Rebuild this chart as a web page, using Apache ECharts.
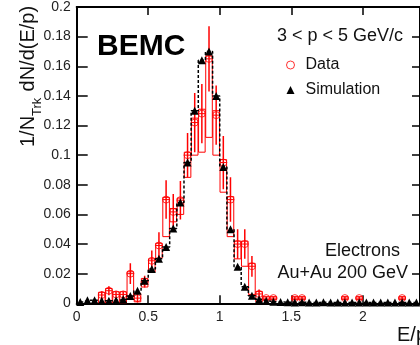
<!DOCTYPE html>
<html>
<head>
<meta charset="utf-8">
<script src="https://cdn.jsdelivr.net/npm/echarts@6/dist/echarts.min.js"></script>
<style>
  html, body { margin: 0; padding: 0; background: #fff; }
  #container { width: 420px; height: 345px; }
</style>
</head>
<body>
<div id="container"></div>
<script>
// bin centres in E/p (bin width 0.05)
var binCenters = [0.025, 0.075, 0.125, 0.175, 0.225, 0.275, 0.325, 0.375, 0.425, 0.475,
    0.525, 0.575, 0.625, 0.675, 0.725, 0.775, 0.825, 0.875, 0.925, 0.975,
    1.025, 1.075, 1.125, 1.175, 1.225, 1.275, 1.325, 1.375, 1.425, 1.475,
    1.525, 1.575, 1.625, 1.675, 1.725, 1.775, 1.825, 1.875, 1.925, 1.975,
    2.025, 2.075, 2.125, 2.175, 2.225, 2.275, 2.325, 2.375];

// data (null = empty bin)
var dataValues = [null, null, null, 0.0056, 0.0085, 0.006, 0.006, 0.020, 0.0035, 0.0146,
    0.0287, 0.039, 0.070, 0.0617, 0.0696, 0.100, 0.122, 0.128, 0.165, 0.127,
    0.095, 0.070, 0.040, 0.040, 0.025, 0.0063, 0.0035, 0.0035, null, null,
    0.0035, 0.0035, null, null, null, null, null, 0.0035, null, 0.0035,
    null, null, null, null, null, 0.0035, null, null];

// statistical errors
var dataErrors = [0, 0, 0, 0.0025, 0.003, 0.002, 0.002, 0.007, 0.003, 0.004,
    0.007, 0.009, 0.013, 0.012, 0.013, 0.015, 0.020, 0.020, 0.022, 0.020,
    0.018, 0.015, 0.010, 0.010, 0.007, 0.003, 0.001, 0.001, 0, 0,
    0.001, 0.001, 0, 0, 0, 0, 0, 0.001, 0, 0.001,
    0, 0, 0, 0, 0, 0.001, 0, 0];

// systematic boxes: lower and upper edge
var sysLow = [0, 0, 0, 0, 0, 0, 0, 0.0045, 0.001, 0.011,
    0.021, 0.0305, 0.045, 0.055, 0.060, 0.085, 0.100, 0.102, 0.112, 0.100,
    0.075, 0.045, 0.030, 0.025, 0.006, 0.001, 0.0025, 0.0025, 0, 0,
    0.0025, 0.0025, 0, 0, 0, 0, 0, 0.0025, 0, 0.0025,
    0, 0, 0, 0, 0, 0.0025, 0, 0];
var sysHigh = [0, 0, 0, 0.0074, 0.010, 0.0078, 0.0078, 0.0213, 0.0067, 0.0168,
    0.030, 0.0405, 0.0715, 0.064, 0.071, 0.102, 0.125, 0.131, 0.167, 0.130,
    0.097, 0.072, 0.042, 0.042, 0.027, 0.008, 0.0045, 0.0045, 0, 0,
    0.0045, 0.0045, 0, 0, 0, 0, 0, 0.0045, 0, 0.0045,
    0, 0, 0, 0, 0, 0.0045, 0, 0];

// simulation
var simValues = [0.0008, 0.002, 0.002, 0.0018, 0.0018, 0.002, 0.0027, 0.005, 0.0085, 0.0152,
    0.0232, 0.030, 0.038, 0.0505, 0.068, 0.095, 0.130, 0.164, 0.170, 0.140,
    0.092, 0.050, 0.0247, 0.0112, 0.0051, 0.0027, 0.0015, 0.001, 0.0008, 0.0007,
    0.0006, 0.0007, 0.0006, 0.0006, 0.0007, 0.0006, 0.0005, 0.0006, 0.0006, 0.0005,
    0.0006, 0.0005, 0.0005, 0.0006, 0.0005, 0.0005, 0.0005, 0.0005];

var FONT = 'Liberation Sans, Arial, sans-serif';
var RED = '#ff0000';
var HALF_BIN = 0.023;

var dataPts = [], simPts = [];
for (var i = 0; i < binCenters.length; i++) {
    if (dataValues[i] !== null) {
        dataPts.push([binCenters[i], dataValues[i], dataErrors[i], sysLow[i], sysHigh[i]]);
    }
    simPts.push([binCenters[i], simValues[i]]);
}

var myChart = echarts.init(document.getElementById('container'));

var axisCommon = {
    axisLine: { show: true, onZero: false, lineStyle: { color: '#000', width: 2 } },
    splitLine: { show: false }
};

var option = {
    animation: false,
    grid: { left: 76.7, top: 6.5, width: 345.6, height: 296.8 },
    xAxis: [
        Object.assign({
            type: 'value', min: 0, max: 2.4, interval: 0.5, position: 'bottom',
            axisTick: { inside: true, length: 8, lineStyle: { color: '#000', width: 1.5 } },
            axisLabel: { fontSize: 14, color: '#222', fontFamily: FONT, margin: 7, showMaxLabel: false }
        }, axisCommon),
        Object.assign({
            type: 'value', min: 0, max: 2.4, interval: 0.5, position: 'top',
            axisTick: { inside: true, length: 8, lineStyle: { color: '#000', width: 1.5 } },
            axisLabel: { show: false }
        }, axisCommon)
    ],
    yAxis: [
        Object.assign({
            type: 'value', min: 0, max: 0.2, interval: 0.02, position: 'left',
            axisTick: { inside: true, length: 11, lineStyle: { color: '#000', width: 1.5 } },
            axisLabel: { fontSize: 14, color: '#222', fontFamily: FONT, margin: 6 }
        }, axisCommon),
        Object.assign({
            type: 'value', min: 0, max: 0.2, interval: 0.02, position: 'right',
            axisTick: { inside: true, length: 8, lineStyle: { color: '#000', width: 1.5 } },
            axisLabel: { show: false }
        }, axisCommon)
    ],
    legend: {
        orient: 'vertical', left: 281, top: 52, itemWidth: 8, itemHeight: 8, itemGap: 9,
        textStyle: { fontSize: 16, color: '#111', fontFamily: FONT, padding: [0, 0, 0, 6] },
        data: [
            { name: 'Data', icon: 'circle', itemStyle: { color: 'rgba(0,0,0,0)', borderColor: RED, borderWidth: 1 } },
            { name: 'Simulation', icon: 'triangle', itemStyle: { color: '#000' } }
        ]
    },
    graphic: [
        { type: 'text', left: 97, top: 32, style: { text: 'BEMC', fontSize: 30, fontWeight: 'bold', fontFamily: FONT, fill: '#000' } },
        { type: 'text', x: 403, y: 36, style: { text: '3 < p < 5 GeV/c', fontSize: 18, fontFamily: FONT, fill: '#111', align: 'right', verticalAlign: 'middle' } },
        { type: 'text', x: 400, y: 251, style: { text: 'Electrons', fontSize: 18, fontFamily: FONT, fill: '#111', align: 'right', verticalAlign: 'middle' } },
        { type: 'text', x: 408, y: 273, style: { text: 'Au+Au 200 GeV', fontSize: 18, fontFamily: FONT, fill: '#111', align: 'right', verticalAlign: 'middle' } },
        { type: 'text', x: 397, y: 335, style: { text: 'E/p', fontSize: 20, fontFamily: FONT, fill: '#111', align: 'left', verticalAlign: 'middle' } },
        {
            type: 'group', x: 28, y: 147, rotation: Math.PI / 2,
            children: [
                { type: 'text', x: 0, y: 0, style: { text: '1/N', fontSize: 20, fontFamily: FONT, fill: '#111', verticalAlign: 'middle' } },
                { type: 'text', x: 31, y: 9, style: { text: 'Trk', fontSize: 13, fontFamily: FONT, fill: '#111', verticalAlign: 'middle' } },
                { type: 'text', x: 50, y: 0, style: { text: ' dN/d(E/p)', fontSize: 20, fontFamily: FONT, fill: '#111', verticalAlign: 'middle' } }
            ]
        }
    ],
    series: [
        {
            // systematic boxes + horizontal bin-width bar
            type: 'custom', name: 'DataSys', clip: true, z: 2,
            data: dataPts,
            renderItem: function (params, api) {
                var x = api.value(0), v = api.value(1);
                var p0 = api.coord([x - HALF_BIN, api.value(4)]);
                var p1 = api.coord([x + HALF_BIN, api.value(3)]);
                var m = api.coord([x, v]);
                return {
                    type: 'group',
                    children: [
                        {
                            type: 'rect',
                            shape: { x: p0[0], y: p0[1], width: p1[0] - p0[0], height: p1[1] - p0[1] },
                            style: { fill: 'none', stroke: RED, lineWidth: 1 }
                        },
                        {
                            type: 'line',
                            shape: { x1: p0[0], y1: m[1], x2: p1[0], y2: m[1] },
                            style: { stroke: RED, lineWidth: 1 }
                        }
                    ]
                };
            }
        },
        {
            // statistical error bars
            type: 'custom', name: 'DataErr', clip: true, z: 3,
            data: dataPts,
            renderItem: function (params, api) {
                var x = api.value(0), v = api.value(1), e = api.value(2);
                var lo = api.coord([x, v - e]);
                var hi = api.coord([x, v + e]);
                return {
                    type: 'line',
                    shape: { x1: lo[0], y1: lo[1], x2: hi[0], y2: hi[1] },
                    style: { stroke: RED, lineWidth: 1.5 }
                };
            }
        },
        {
            type: 'scatter', name: 'Data', z: 4,
            data: dataPts.map(function (d) { return [d[0], d[1]]; }),
            symbol: 'circle', symbolSize: 7,
            itemStyle: { color: 'rgba(255,255,255,0)', borderColor: RED, borderWidth: 1 }
        },
        {
            type: 'line', name: 'Simulation', z: 5,
            data: simPts, step: 'middle',
            symbol: 'triangle', symbolSize: 8, showAllSymbol: true,
            itemStyle: { color: '#000' },
            lineStyle: { color: '#000', width: 1.5, type: [3, 2] }
        }
    ]
};

myChart.setOption(option);
</script>
</body>
</html>
